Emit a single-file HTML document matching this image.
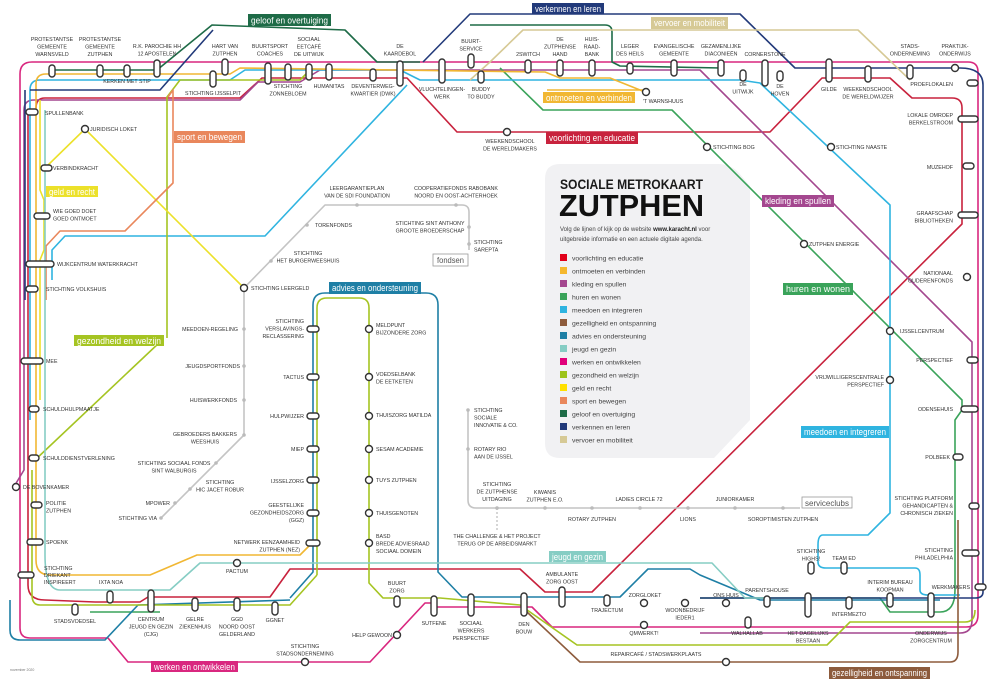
<!DOCTYPE html>
<html><head><meta charset="utf-8"><style>
html,body{margin:0;padding:0;background:#fff}
svg{display:block}
text{font-family:"Liberation Sans",sans-serif;fill:#333}
.s{font-size:5.3px;text-anchor:middle}
.l{font-size:5.3px;text-anchor:start}
.r{font-size:5.3px;text-anchor:end}
.t{font-size:9px;fill:#fff}
.ln{fill:none;stroke-width:1.6;stroke-linejoin:round}
.p{fill:#fff;stroke:#333;stroke-width:1.4}
.g{fill:#bbb}
.lg{font-size:6.8px;fill:#444}
</style></head><body>
<svg width="1000" height="683" viewBox="0 0 1000 683" xmlns="http://www.w3.org/2000/svg">
<path d="M560,164 L718,164 Q730,164 738,172 L750,186 L750,420 L714,458 L560,458 Q545,458 545,443 L545,179 Q545,164 560,164Z" fill="#f1f1f3"/>

<path class="ln" stroke="#d9277f" d="M434,603 L425,603 L370,662 L128,662 L108,638 L30,638 Q20,638 20,628 L20,74 Q20,62 32,62 L968,62 Q978,62 978,72 L978,615 Q978,627 966,627 L552,627 L532,607 L434,607"/>
<path class="ln" stroke="#c8223d" d="M95,602 L140,602 L148,597 L270,597 L290,569 L520,569 L545,592 L592,592 L962,224 L962,108 Q962,98 952,98 L912,98 L890,78 L822,78 L770,132 L457,132 L407,78 L262,78 L240,98 L45,98 Q36,98 36,108"/>
<path class="ln" stroke="#c8223d" d="M28,110 L28,585 Q28,600 45,600 L95,602"/>
<path class="ln" stroke="#a4478f" d="M15,485 L24,470 L24,110 Q24,100 34,100 L240,100 L258,82 L300,82 L320,70 L700,70 L972,342 L972,620 Q972,633 960,633 L700,633"/>
<path class="ln" stroke="#3aa35a" d="M500,68 L543,110 L672,110 L962,400 L962,410 L955,420 L955,590 Q955,612 940,612 L890,612 L880,598 L700,598"/>
<path class="ln" stroke="#3aa35a" d="M160,612 L90,612"/>
<path class="ln" stroke="#2fb4e0" d="M30,420 L30,90 Q30,80 40,80 L230,80 L245,70 L400,70 L420,80 L740,80 L760,83 L890,205 L890,513 L868,535 L823,535 Q818,535 818,545 L818,562 Q818,568 826,568 L915,568 Q920,568 920,575 L920,590 Q920,595 928,595 L960,595"/>
<path class="ln" stroke="#2fb4e0" d="M407,85 L265,236 L65,236 L52,250 L52,280"/>
<path class="ln" stroke="#1e7fa5" d="M290,598 L313,572 L313,305 Q313,293 325,293 L426,293 Q438,293 438,305 L438,572 L462,597 L620,597 L648,569 L690,569 L700,575 L760,600 L820,600 L900,600 L940,600"/>
<path class="ln" stroke="#1e7fa5" d="M10,600 L10,630 Q10,640 20,640 L105,640 L138,605 L290,600"/>
<path class="ln" stroke="#a5c422" d="M167,338 L167,97 L180,80 L300,80 L310,70"/>
<path class="ln" stroke="#a5c422" d="M35,460 L160,342"/>
<path class="ln" stroke="#a5c422" d="M317,575 L317,308 Q317,298 327,298 L359,298 Q369,298 369,308 L369,583 L383,598 L440,598 L520,605 L577,645 L827,645 L850,622 L965,622 Q975,622 975,610"/>
<path class="ln" stroke="#a5c422" d="M317,575 L290,605 L40,605 Q32,605 32,595 L32,470"/>
<path class="ln" stroke="#ece12a" d="M45,168 L85,129 L244,288"/>
<path class="ln" stroke="#ece12a" d="M40,400 L40,260 L44,250 L44,200 L40,190 L40,100"/>
<path class="ln" stroke="#f1b733" d="M36,560 L36,84 Q36,74 46,74 L230,74 L240,68 L545,72 L560,78 L610,78 L645,92 M547,90 L645,90"/>
<path class="ln" stroke="#f1b733" d="M36,560 Q36,575 50,575 L150,575 L197,555 L300,555 L312,543"/>
<path class="ln" stroke="#e9875c" d="M168,97 L173,90 L173,183 L125,231 L60,231 L46,246 L46,300"/>
<path class="ln" stroke="#1e6b47" d="M52,70 L157,70 L212,25 L345,30 L377,62 L420,62 M470,25 L605,25 Q612,25 612,32 L612,62 L620,66 L721,68"/>
<path class="ln" stroke="#223a7a" d="M30,90 L160,90 L213,30 M25,300 L25,90 M423,62 L470,14 L740,14 L795,68 L960,68 Q983,68 983,85 L983,592 Q983,598 975,598 L700,598"/>
<path class="ln" stroke="#d6c995" d="M490,62 L523,30 L858,30 L910,80 M470,80 L490,62"/>
<path class="ln" stroke="#8d5b3c" d="M527,612 L580,662 L950,662 Q958,662 958,652 L958,520"/>
<path class="ln" stroke="#86cdc4" d="M45,300 L45,555 Q45,590 60,590 L170,590 L200,563 L712,563 L745,598 L770,598"/>
<path class="ln" stroke="#86cdc4" d="M45,300 L45,110"/>
<path class="ln" stroke="#c4c4c4" d="M244,288 L244,435 L161,518 M244,288 L325,205 L462,205 Q469,205 469,212 L469,250 M468,410 L468,500 Q468,508 476,508 L800,508"/>
<path stroke="#c4c4c4" stroke-width="1.4" stroke-dasharray="2,2" d="M497,508 L497,530"/>

<rect x="248" y="14" width="83" height="12" fill="#1e6b47"/><text class="t" x="251" y="23.5" textLength="77" lengthAdjust="spacingAndGlyphs">geloof en overtuiging</text>
<rect x="532" y="3" width="72" height="11" fill="#223a7a"/><text class="t" x="535" y="12" textLength="66" lengthAdjust="spacingAndGlyphs">verkennen en leren</text>
<rect x="651" y="17" width="77" height="12" fill="#d6c995"/><text class="t" x="654" y="26" textLength="71" lengthAdjust="spacingAndGlyphs">vervoer en mobiliteit</text>
<rect x="543" y="92" width="92" height="11" fill="#f1b733"/><text class="t" x="546" y="101" textLength="86" lengthAdjust="spacingAndGlyphs">ontmoeten en verbinden</text>
<rect x="546" y="132" width="92" height="12" fill="#c8223d"/><text class="t" x="549" y="141" textLength="86" lengthAdjust="spacingAndGlyphs">voorlichting en educatie</text>
<rect x="174" y="131" width="71" height="12" fill="#e9875c"/><text class="t" x="177" y="140" textLength="65" lengthAdjust="spacingAndGlyphs">sport en bewegen</text>
<rect x="46" y="186" width="52" height="11" fill="#ece12a"/><text class="t" x="49" y="195" textLength="46" lengthAdjust="spacingAndGlyphs">geld en recht</text>
<rect x="74" y="335" width="90" height="11" fill="#a5c422"/><text class="t" x="77" y="344" textLength="84" lengthAdjust="spacingAndGlyphs">gezondheid en welzijn</text>
<rect x="329" y="282" width="92" height="12" fill="#1e7fa5"/><text class="t" x="332" y="291" textLength="86" lengthAdjust="spacingAndGlyphs">advies en ondersteuning</text>
<rect x="762" y="195" width="72" height="12" fill="#a4478f"/><text class="t" x="765" y="204" textLength="66" lengthAdjust="spacingAndGlyphs">kleding en spullen</text>
<rect x="783" y="283" width="70" height="12" fill="#3aa35a"/><text class="t" x="786" y="292" textLength="64" lengthAdjust="spacingAndGlyphs">huren en wonen</text>
<rect x="801" y="426" width="88" height="12" fill="#2fb4e0"/><text class="t" x="804" y="435" textLength="82" lengthAdjust="spacingAndGlyphs">meedoen en integreren</text>
<rect x="549" y="551" width="57" height="11" fill="#86cdc4"/><text class="t" x="552" y="560" textLength="51" lengthAdjust="spacingAndGlyphs">jeugd en gezin</text>
<rect x="151" y="661" width="87" height="11" fill="#d9277f"/><text class="t" x="154" y="670" textLength="81" lengthAdjust="spacingAndGlyphs">werken en ontwikkelen</text>
<rect x="829" y="667" width="101" height="12" fill="#8d5b3c"/><text class="t" x="832" y="676" textLength="95" lengthAdjust="spacingAndGlyphs">gezelligheid en ontspanning</text>
<rect x="433" y="254" width="35" height="12" fill="#fff" stroke="#999" stroke-width=".8"/><text x="437" y="263" style="font-size:8.5px;fill:#555" textLength="27" lengthAdjust="spacingAndGlyphs">fondsen</text>
<rect x="802" y="497" width="50" height="11" fill="#fff" stroke="#999" stroke-width=".8"/><text x="805" y="506" style="font-size:8.5px;fill:#555" textLength="44" lengthAdjust="spacingAndGlyphs">serviceclubs</text>

<text x="560" y="189" style="font-size:13.5px;font-weight:bold;fill:#1a1a1a" textLength="143" lengthAdjust="spacingAndGlyphs">SOCIALE METROKAART</text>
<text x="559" y="216" style="font-size:31px;font-weight:bold;fill:#111" textLength="145" lengthAdjust="spacingAndGlyphs">ZUTPHEN</text>
<text x="560" y="231" style="font-size:6px;fill:#444">Volg de lijnen of kijk op de website <tspan style="font-weight:bold;fill:#222">www.karacht.nl</tspan> voor</text>
<text x="560" y="241" style="font-size:6px;fill:#444">uitgebreide informatie en een actuele digitale agenda.</text>
<g>
<rect x="560" y="254" width="7" height="7" fill="#e1001a"/><text class="lg" x="572" y="260.5">voorlichting en educatie</text>
<rect x="560" y="267" width="7" height="7" fill="#f5b82e"/><text class="lg" x="572" y="273.5">ontmoeten en verbinden</text>
<rect x="560" y="280" width="7" height="7" fill="#a4478f"/><text class="lg" x="572" y="286.5">kleding en spullen</text>
<rect x="560" y="293" width="7" height="7" fill="#3aa35a"/><text class="lg" x="572" y="299.5">huren en wonen</text>
<rect x="560" y="306" width="7" height="7" fill="#2fb4e0"/><text class="lg" x="572" y="312.5">meedoen en integreren</text>
<rect x="560" y="319" width="7" height="7" fill="#8d5b3c"/><text class="lg" x="572" y="325.5">gezelligheid en ontspanning</text>
<rect x="560" y="332" width="7" height="7" fill="#1e7fa5"/><text class="lg" x="572" y="338.5">advies en ondersteuning</text>
<rect x="560" y="345" width="7" height="7" fill="#86cdc4"/><text class="lg" x="572" y="351.5">jeugd en gezin</text>
<rect x="560" y="358" width="7" height="7" fill="#e0007a"/><text class="lg" x="572" y="364.5">werken en ontwikkelen</text>
<rect x="560" y="371" width="7" height="7" fill="#9cc31a"/><text class="lg" x="572" y="377.5">gezondheid en welzijn</text>
<rect x="560" y="384" width="7" height="7" fill="#ffe000"/><text class="lg" x="572" y="390.5">geld en recht</text>
<rect x="560" y="397" width="7" height="7" fill="#e9875c"/><text class="lg" x="572" y="403.5">sport en bewegen</text>
<rect x="560" y="410" width="7" height="7" fill="#1e6b47"/><text class="lg" x="572" y="416.5">geloof en overtuiging</text>
<rect x="560" y="423" width="7" height="7" fill="#223a7a"/><text class="lg" x="572" y="429.5">verkennen en leren</text>
<rect x="560" y="436" width="7" height="7" fill="#d6c995"/><text class="lg" x="572" y="442.5">vervoer en mobiliteit</text>
</g>

<g class="p">
<rect x="49" y="65" width="6" height="12" rx="3"/>
<rect x="97" y="65" width="6" height="12" rx="3"/>
<rect x="124" y="65" width="6" height="12" rx="3"/>
<rect x="154" y="60" width="6" height="17" rx="3"/>
<rect x="222" y="59" width="6" height="16" rx="3"/>
<rect x="210" y="71" width="6" height="16" rx="3"/>
<rect x="265" y="63" width="6" height="21" rx="3"/>
<rect x="285" y="64" width="6" height="16" rx="3"/>
<rect x="306" y="64" width="6" height="16" rx="3"/>
<rect x="326" y="64" width="6" height="16" rx="3"/>
<rect x="370" y="69" width="6" height="12" rx="3"/>
<rect x="397" y="61" width="6" height="25" rx="3"/>
<rect x="468" y="54" width="6" height="14" rx="3"/>
<rect x="439" y="59" width="6" height="24" rx="3"/>
<rect x="478" y="71" width="6" height="12" rx="3"/>
<rect x="525" y="60" width="6" height="13" rx="3"/>
<rect x="557" y="60" width="6" height="16" rx="3"/>
<rect x="589" y="60" width="6" height="16" rx="3"/>
<rect x="627" y="63" width="6" height="11" rx="3"/>
<rect x="671" y="60" width="6" height="16" rx="3"/>
<rect x="718" y="60" width="6" height="16" rx="3"/>
<rect x="740" y="70" width="6" height="11" rx="3"/>
<rect x="762" y="60" width="6" height="26" rx="3"/>
<rect x="777" y="71" width="6" height="10" rx="3"/>
<rect x="826" y="59" width="6" height="23" rx="3"/>
<rect x="865" y="66" width="6" height="16" rx="3"/>
<rect x="907" y="65" width="6" height="14" rx="3"/>
<rect x="967" y="80" width="11" height="6" rx="3"/>
<rect x="958" y="116" width="20" height="6" rx="3"/>
<rect x="963" y="163" width="11" height="6" rx="3"/>
<rect x="958" y="212" width="20" height="6" rx="3"/>
<rect x="967" y="357" width="11" height="6" rx="3"/>
<rect x="961" y="406" width="17" height="6" rx="3"/>
<rect x="953" y="454" width="10" height="6" rx="3"/>
<rect x="969" y="503" width="10" height="6" rx="3"/>
<rect x="962" y="550" width="17" height="6" rx="3"/>
<rect x="975" y="584" width="11" height="6" rx="3"/>
<rect x="808" y="562" width="6" height="12" rx="3"/>
<rect x="841" y="562" width="6" height="12" rx="3"/>
<rect x="887" y="593" width="6" height="14" rx="3"/>
<rect x="928" y="593" width="6" height="24" rx="3"/>
<rect x="846" y="597" width="6" height="12" rx="3"/>
<rect x="805" y="593" width="6" height="24" rx="3"/>
<rect x="764" y="596" width="6" height="11" rx="3"/>
<rect x="745" y="617" width="6" height="11" rx="3"/>
<rect x="604" y="595" width="6" height="11" rx="3"/>
<rect x="559" y="587" width="6" height="20" rx="3"/>
<rect x="521" y="593" width="6" height="23" rx="3"/>
<rect x="468" y="594" width="6" height="22" rx="3"/>
<rect x="431" y="596" width="6" height="20" rx="3"/>
<rect x="394" y="596" width="6" height="11" rx="3"/>
<rect x="272" y="602" width="6" height="13" rx="3"/>
<rect x="234" y="598" width="6" height="13" rx="3"/>
<rect x="192" y="598" width="6" height="13" rx="3"/>
<rect x="148" y="590" width="6" height="22" rx="3"/>
<rect x="107" y="591" width="6" height="12" rx="3"/>
<rect x="72" y="604" width="6" height="11" rx="3"/>
<rect x="18" y="572" width="16" height="6" rx="3"/>
<rect x="27" y="539" width="16" height="6" rx="3"/>
<rect x="31" y="502" width="11" height="6" rx="3"/>
<rect x="29" y="455" width="10" height="6" rx="3"/>
<rect x="29" y="406" width="10" height="6" rx="3"/>
<rect x="21" y="358" width="22" height="6" rx="3"/>
<rect x="26" y="286" width="12" height="6" rx="3"/>
<rect x="26" y="261" width="28" height="6" rx="3"/>
<rect x="34" y="213" width="16" height="6" rx="3"/>
<rect x="41" y="165" width="11" height="6" rx="3"/>
<rect x="26" y="109" width="12" height="6" rx="3"/>
<rect x="307" y="326" width="12" height="6" rx="3"/>
<rect x="307" y="374" width="12" height="6" rx="3"/>
<rect x="307" y="413" width="12" height="6" rx="3"/>
<rect x="307" y="446" width="12" height="6" rx="3"/>
<rect x="307" y="477" width="12" height="6" rx="3"/>
<rect x="307" y="510" width="12" height="6" rx="3"/>
<rect x="306" y="540" width="14" height="6" rx="3"/>
<circle cx="955" cy="68" r="3.5"/><circle cx="646" cy="92" r="3.5"/><circle cx="507" cy="132" r="3.5"/>
<circle cx="707" cy="147" r="3.5"/><circle cx="831" cy="147" r="3.5"/><circle cx="804" cy="244" r="3.5"/>
<circle cx="967" cy="277" r="3.5"/><circle cx="890" cy="331" r="3.5"/><circle cx="890" cy="380" r="3.5"/>
<circle cx="726" cy="603" r="3.5"/><circle cx="685" cy="603" r="3.5"/><circle cx="644" cy="603" r="3.5"/>
<circle cx="644" cy="625" r="3.5"/><circle cx="726" cy="662" r="3.5"/><circle cx="397" cy="635" r="3.5"/>
<circle cx="305" cy="662" r="3.5"/><circle cx="237" cy="563" r="3.5"/><circle cx="16" cy="487" r="3.5"/>
<circle cx="85" cy="129" r="3.5"/><circle cx="244" cy="288" r="3.5"/>
<circle cx="369" cy="329" r="3.5"/><circle cx="369" cy="377" r="3.5"/><circle cx="369" cy="416" r="3.5"/>
<circle cx="369" cy="449" r="3.5"/><circle cx="369" cy="480" r="3.5"/><circle cx="369" cy="513" r="3.5"/><circle cx="369" cy="543" r="3.5"/>
</g>
<g class="g">
<circle cx="244" cy="329" r="1.8"/><circle cx="244" cy="366" r="1.8"/><circle cx="244" cy="400" r="1.8"/><circle cx="244" cy="435" r="1.8"/>
<circle cx="216" cy="463" r="1.8"/><circle cx="190" cy="489" r="1.8"/><circle cx="175" cy="503" r="1.8"/><circle cx="161" cy="518" r="1.8"/>
<circle cx="271" cy="261" r="1.8"/><circle cx="307" cy="225" r="1.8"/><circle cx="357" cy="205" r="1.8"/><circle cx="456" cy="205" r="1.8"/>
<circle cx="469" cy="227" r="1.8"/><circle cx="469" cy="244" r="1.8"/><circle cx="468" cy="410" r="1.8"/><circle cx="468" cy="449" r="1.8"/>
<circle cx="497" cy="508" r="1.8"/><circle cx="545" cy="508" r="1.8"/><circle cx="592" cy="508" r="1.8"/><circle cx="640" cy="508" r="1.8"/>
<circle cx="688" cy="508" r="1.8"/><circle cx="735" cy="508" r="1.8"/><circle cx="783" cy="508" r="1.8"/>
</g>

<text class="s" x="52" y="41">PROTESTANTSE<tspan x="52" dy="7.5">GEMEENTE</tspan><tspan x="52" dy="7.5">WARNSVELD</tspan></text>
<text class="s" x="100" y="41">PROTESTANTSE<tspan x="100" dy="7.5">GEMEENTE</tspan><tspan x="100" dy="7.5">ZUTPHEN</tspan></text>
<text class="s" x="127" y="83">KERKEN MET STIP</text>
<text class="s" x="157" y="48">R.K. PAROCHIE HH<tspan x="157" dy="7.5">12 APOSTELEN</tspan></text>
<text class="s" x="225" y="48">HART VAN<tspan x="225" dy="7.5">ZUTPHEN</tspan></text>
<text class="s" x="213" y="95">STICHTING IJSSELPIT</text>
<text class="s" x="270" y="48">BUURTSPORT<tspan x="270" dy="7.5">COACHES</tspan></text>
<text class="s" x="309" y="41">SOCIAAL<tspan x="309" dy="7.5">EETCAFÉ</tspan><tspan x="309" dy="7.5">DE UITWIJK</tspan></text>
<text class="s" x="288" y="88">STICHTING<tspan x="288" dy="7.5">ZONNEBLOEM</tspan></text>
<text class="s" x="329" y="88">HUMANITAS</text>
<text class="s" x="373" y="88">DEVENTERWEG-<tspan x="373" dy="7.5">KWARTIER (DWK)</tspan></text>
<text class="s" x="400" y="48">DE<tspan x="400" dy="7.5">KAARDEBOL</tspan></text>
<text class="s" x="471" y="43">BUURT-<tspan x="471" dy="7.5">SERVICE</tspan></text>
<text class="s" x="442" y="91">VLUCHTELINGEN-<tspan x="442" dy="7.5">WERK</tspan></text>
<text class="s" x="481" y="91">BUDDY<tspan x="481" dy="7.5">TO BUDDY</tspan></text>
<text class="s" x="528" y="56">2SWITCH</text>
<text class="s" x="560" y="41">DE<tspan x="560" dy="7.5">ZUTPHENSE</tspan><tspan x="560" dy="7.5">HAND</tspan></text>
<text class="s" x="592" y="41">HUIS-<tspan x="592" dy="7.5">RAAD-</tspan><tspan x="592" dy="7.5">BANK</tspan></text>
<text class="s" x="630" y="48">LEGER<tspan x="630" dy="7.5">DES HEILS</tspan></text>
<text class="s" x="674" y="48">EVANGELISCHE<tspan x="674" dy="7.5">GEMEENTE</tspan></text>
<text class="s" x="721" y="48">GEZAMENLIJKE<tspan x="721" dy="7.5">DIACONIEËN</tspan></text>
<text class="s" x="743" y="86">DE<tspan x="743" dy="7.5">UITWIJK</tspan></text>
<text class="s" x="765" y="56">CORNERSTONE</text>
<text class="s" x="780" y="88">DE<tspan x="780" dy="7.5">HOVEN</tspan></text>
<text class="s" x="829" y="91">GILDE</text>
<text class="s" x="868" y="91">WEEKENDSCHOOL<tspan x="868" dy="7.5">DE WERELDWIJZER</tspan></text>
<text class="s" x="910" y="48">STADS-<tspan x="910" dy="7.5">ONDERNEMING</tspan></text>
<text class="s" x="955" y="48">PRAKTIJK-<tspan x="955" dy="7.5">ONDERWIJS</tspan></text>
<text class="r" x="953" y="86">PROEFLOKALEN</text>
<text class="l" x="643" y="103">'T WARNSHUUS</text>
<text class="s" x="510" y="143">WEEKENDSCHOOL<tspan x="510" dy="7.5">DE WERELDMAKERS</tspan></text>
<text class="l" x="713" y="149">STICHTING BOG</text>
<text class="l" x="836" y="149">STICHTING NAASTE</text>
<text class="r" x="953" y="117">LOKALE OMROEP<tspan x="953" dy="7.5">BERKELSTROOM</tspan></text>
<text class="r" x="953" y="169">MUZEHOF</text>
<text class="r" x="953" y="215">GRAAFSCHAP<tspan x="953" dy="7.5">BIBLIOTHEKEN</tspan></text>
<text class="l" x="809" y="246">ZUTPHEN ENERGIE</text>
<text class="r" x="953" y="275">NATIONAAL<tspan x="953" dy="7.5">OUDERENFONDS</tspan></text>
<text class="l" x="900" y="333">IJSSELCENTRUM</text>
<text class="r" x="953" y="362">PERSPECTIEF</text>
<text class="r" x="884" y="379">VRIJWILLIGERSCENTRALE<tspan x="884" dy="7.5">PERSPECTIEF</tspan></text>
<text class="r" x="953" y="411">ODENSEHUIS</text>
<text class="r" x="950" y="459">POLBEEK</text>
<text class="r" x="953" y="500">STICHTING PLATFORM<tspan x="953" dy="7.5">GEHANDICAPTEN &amp;</tspan><tspan x="953" dy="7.5">CHRONISCH ZIEKEN</tspan></text>
<text class="r" x="953" y="552">STICHTING<tspan x="953" dy="7.5">PHILADELPHIA</tspan></text>
<text class="r" x="970" y="589">WERKMAKERS</text>
<text class="s" x="811" y="553">STICHTING<tspan x="811" dy="7.5">HIGHS!</tspan></text>
<text class="s" x="844" y="560">TEAM ED</text>
<text class="s" x="890" y="584">INTERIM BUREAU<tspan x="890" dy="7.5">KOOPMAN</tspan></text>
<text class="s" x="931" y="635">ONDERWIJS<tspan x="931" dy="7.5">ZORGCENTRUM</tspan></text>
<text class="s" x="849" y="616">INTERMEZTO</text>
<text class="s" x="808" y="635">HET DAGELIJKS<tspan x="808" dy="7.5">BESTAAN</tspan></text>
<text class="s" x="767" y="592">PARENTSHOUSE</text>
<text class="s" x="747" y="635">WALHALLAB</text>
<text class="s" x="726" y="597">ONS HUIS</text>
<text class="s" x="685" y="612">WOONBEDRIJF<tspan x="685" dy="7.5">IEDER1</tspan></text>
<text class="s" x="645" y="597">ZORGLOKET</text>
<text class="s" x="644" y="635">QMWERKT!</text>
<text class="s" x="607" y="612">TRAJECTUM</text>
<text class="s" x="562" y="576">AMBULANTE<tspan x="562" dy="7.5">ZORG OOST</tspan></text>
<text class="s" x="524" y="626">DEN<tspan x="524" dy="7.5">BOUW</tspan></text>
<text class="s" x="656" y="656">REPAIRCAFÉ / STADSWERKPLAATS</text>
<text class="s" x="545" y="494">KIWANIS<tspan x="545" dy="7.5">ZUTPHEN E.O.</tspan></text>
<text class="s" x="639" y="501">LADIES CIRCLE 72</text>
<text class="s" x="735" y="501">JUNIORKAMER</text>
<text class="s" x="592" y="521">ROTARY ZUTPHEN</text>
<text class="s" x="688" y="521">LIONS</text>
<text class="s" x="783" y="521">SOROPTIMISTEN ZUTPHEN</text>
<text class="s" x="497" y="486">STICHTING<tspan x="497" dy="7.5">DE ZUTPHENSE</tspan><tspan x="497" dy="7.5">UITDAGING</tspan></text>
<text class="s" x="497" y="538">THE CHALLENGE &amp; HET PROJECT<tspan x="497" dy="7.5">TERUG OP DE ARBEIDSMARKT</tspan></text>
<text class="l" x="474" y="412">STICHTING<tspan x="474" dy="7.5">SOCIALE</tspan><tspan x="474" dy="7.5">INNOVATIE &amp; CO.</tspan></text>
<text class="l" x="474" y="451">ROTARY RIO<tspan x="474" dy="7.5">AAN DE IJSSEL</tspan></text>
<text class="l" x="46" y="363">MEE</text>
<text class="l" x="43" y="411">SCHULDHULPMAATJE</text>
<text class="l" x="43" y="460">SCHULDDIENSTVERLENING</text>
<text class="l" x="23" y="489">DE BOVENKAMER</text>
<text class="l" x="46" y="505">POLITIE<tspan x="46" dy="7.5">ZUTPHEN</tspan></text>
<text class="l" x="46" y="544">SPOENK</text>
<text class="l" x="44" y="570">STICHTING<tspan x="44" dy="7">DRIEKANT</tspan><tspan x="44" dy="7">INSPIREERT</tspan></text>
<text class="s" x="111" y="584">IXTA NOA</text>
<text class="s" x="75" y="623">STADSVOEDSEL</text>
<text class="s" x="151" y="621">CENTRUM<tspan x="151" dy="7.5">JEUGD EN GEZIN</tspan><tspan x="151" dy="7.5">(CJG)</tspan></text>
<text class="s" x="195" y="621">GELRE<tspan x="195" dy="7.5">ZIEKENHUIS</tspan></text>
<text class="s" x="237" y="621">GGD<tspan x="237" dy="7.5">NOORD OOST</tspan><tspan x="237" dy="7.5">GELDERLAND</tspan></text>
<text class="s" x="275" y="622">GGNET</text>
<text class="s" x="237" y="573">PACTUM</text>
<text class="r" x="300" y="544">NETWERK EENZAAMHEID<tspan x="300" dy="7.5">ZUTPHEN (NEZ)</tspan></text>
<text class="r" x="304" y="507">GEESTELIJKE<tspan x="304" dy="7.5">GEZONDHEIDSZORG</tspan><tspan x="304" dy="7.5">(GGZ)</tspan></text>
<text class="r" x="304" y="483">IJSSELZORG</text>
<text class="r" x="304" y="451">MIEP</text>
<text class="r" x="304" y="418">HULPWIJZER</text>
<text class="r" x="304" y="379">TACTUS</text>
<text class="r" x="304" y="323">STICHTING<tspan x="304" dy="7.5">VERSLAVINGS-</tspan><tspan x="304" dy="7.5">RECLASSERING</tspan></text>
<text class="l" x="376" y="327">MELDPUNT<tspan x="376" dy="7.5">BIJZONDERE ZORG</tspan></text>
<text class="l" x="376" y="376">VOEDSELBANK<tspan x="376" dy="7.5">DE EETKETEN</tspan></text>
<text class="l" x="376" y="417">THUISZORG MATILDA</text>
<text class="l" x="376" y="451">SESAM ACADEMIE</text>
<text class="l" x="376" y="482">TUYS ZUTPHEN</text>
<text class="l" x="376" y="515">THUISGENOTEN</text>
<text class="l" x="376" y="538">BASD<tspan x="376" dy="7.5">BREDE ADVIESRAAD</tspan><tspan x="376" dy="7.5">SOCIAAL DOMEIN</tspan></text>
<text class="s" x="397" y="585">BUURT<tspan x="397" dy="7.5">ZORG</tspan></text>
<text class="r" x="392" y="637">HELP GEWOON</text>
<text class="s" x="434" y="625">SUTFENE</text>
<text class="s" x="471" y="625">SOCIAAL<tspan x="471" dy="7.5">WERKERS</tspan><tspan x="471" dy="7.5">PERSPECTIEF</tspan></text>
<text class="s" x="305" y="648">STICHTING<tspan x="305" dy="7.5">STADSONDERNEMING</tspan></text>
<text class="r" x="238" y="331">MEEDOEN-REGELING</text>
<text class="r" x="240" y="368">JEUGDSPORTFONDS</text>
<text class="r" x="237" y="402">HUISWERKFONDS</text>
<text class="s" x="205" y="436">GEBROEDERS BAKKERS<tspan x="205" dy="7.5">WEESHUIS</tspan></text>
<text class="s" x="174" y="465">STICHTING SOCIAAL FONDS<tspan x="174" dy="7.5">SINT WALBURGIS</tspan></text>
<text class="s" x="220" y="484">STICHTING<tspan x="220" dy="7.5">HIC JACET ROBUR</tspan></text>
<text class="r" x="170" y="505">MPOWER</text>
<text class="r" x="157" y="520">STICHTING VIA</text>
<text class="l" x="251" y="290">STICHTING LEERGELD</text>
<text class="s" x="308" y="255">STICHTING<tspan x="308" dy="7.5">HET BURGERWEESHUIS</tspan></text>
<text class="l" x="315" y="227">TORENFONDS</text>
<text class="s" x="357" y="190">LEERGARANTIEPLAN<tspan x="357" dy="7.5">VAN DE SDI FOUNDATION</tspan></text>
<text class="s" x="456" y="190">COOPERATIEFONDS RABOBANK<tspan x="456" dy="7.5">NOORD EN OOST-ACHTERHOEK</tspan></text>
<text class="s" x="430" y="225">STICHTING SINT ANTHONY<tspan x="430" dy="7.5">GROOTE BROEDERSCHAP</tspan></text>
<text class="l" x="474" y="244">STICHTING<tspan x="474" dy="7.5">SAREPTA</tspan></text>
<text class="l" x="45" y="115">SPULLENBANK</text>
<text class="l" x="90" y="131">JURIDISCH LOKET</text>
<text class="l" x="53" y="170">VERBINDKRACHT</text>
<text class="l" x="53" y="213">WIE GOED DOET<tspan x="53" dy="7.5">GOED ONTMOET</tspan></text>
<text class="l" x="57" y="266">WIJKCENTRUM WATERKRACHT</text>
<text class="l" x="46" y="291">STICHTING VOLKSHUIS</text>
<text x="10" y="671" style="font-size:3.5px;fill:#777">november 2020</text>
</svg>
</body></html>
